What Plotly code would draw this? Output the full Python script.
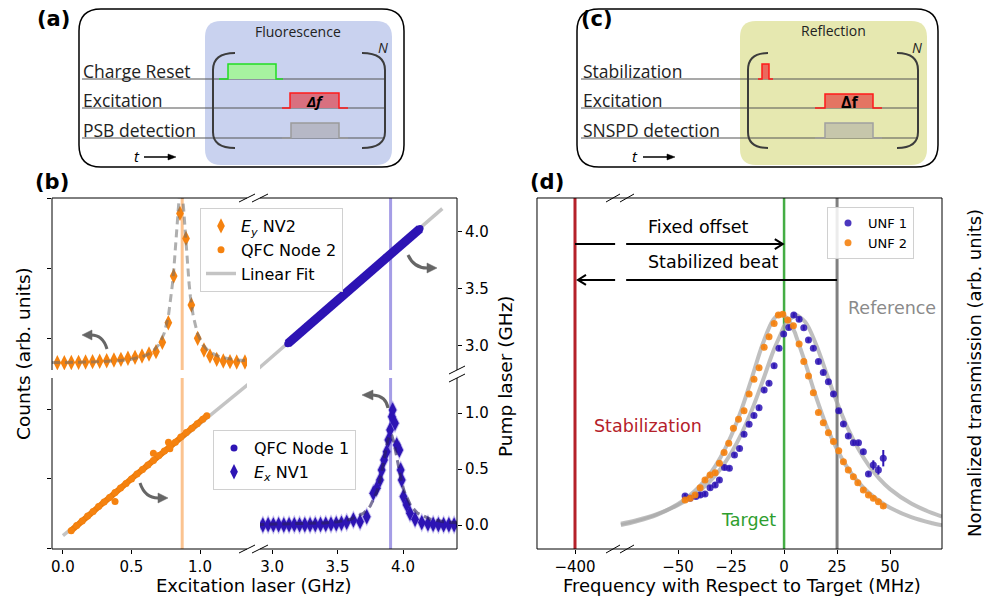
import plotly.graph_objects as go

W, H = 984, 599


def X(p):
    return p / W


def Y(p):
    return 1 - p / H


def pth(*items):
    out = []
    for it in items:
        if isinstance(it, str):
            out.append(it)
        else:
            out.append(f"{X(it[0]):.5f},{Y(it[1]):.5f}")
    return " ".join(out)


# ---------------- panel (b) data ----------------
ey_exc = [-0.041, 0.010, 0.061, 0.114, 0.165, 0.216, 0.268, 0.319, 0.372, 0.423, 0.474, 0.526, 0.577, 0.628,
          0.679, 0.725, 0.769, 0.808, 0.854, 0.898, 0.937, 0.983, 1.029, 1.073, 1.122, 1.170, 1.219, 1.268, 1.328]
ey_counts = [0.647, 0.647, 0.650, 0.652, 0.657, 0.662, 0.667, 0.676, 0.686, 0.695, 0.710, 0.724, 0.743, 0.771,
             0.805, 0.938, 1.219, 1.886, 2.781, 2.424, 1.471, 0.995, 0.829, 0.743, 0.695, 0.671, 0.662, 0.657, 0.657]

eyfit_exc = [-0.08, 0.2, 0.4, 0.5, 0.6, 0.65, 0.7, 0.74, 0.77, 0.79, 0.80, 0.81, 0.82, 0.83, 0.84, 0.85, 0.86,
             0.87, 0.88, 0.89, 0.90, 0.91, 0.92, 0.93, 0.95, 0.98, 1.02, 1.07, 1.15, 1.25, 1.37]
eyfit_counts = [0.649, 0.657, 0.675, 0.697, 0.747, 0.800, 0.904, 1.075, 1.321, 1.594, 1.786, 2.009, 2.275, 2.567,
                2.864, 3.06, 3.14, 3.06, 2.864, 2.567, 2.275, 2.009, 1.786, 1.594, 1.321, 1.075, 0.904, 0.800,
                0.727, 0.689, 0.672]

ex_exc = [2.89, 2.93, 2.97, 3.01, 3.05, 3.09, 3.13, 3.17, 3.21, 3.25, 3.29, 3.33, 3.37, 3.41, 3.45, 3.49, 3.53,
          3.57, 3.621, 3.672, 3.723, 3.773, 3.799, 3.824, 3.837, 3.855, 3.875, 3.888, 3.901, 3.914, 3.921, 3.939,
          3.952, 3.972, 3.982, 3.990, 4.003, 4.028, 4.053, 4.092, 4.143, 4.19, 4.23, 4.27, 4.31, 4.35, 4.39, 4.43]
ex_counts = [0.345, 0.343, 0.347, 0.344, 0.346, 0.343, 0.345, 0.347, 0.344, 0.346, 0.345, 0.348, 0.350, 0.352,
             0.355, 0.360, 0.368, 0.380, 0.414, 0.390, 0.461, 0.795, 0.867, 0.986, 1.129, 1.271, 1.390, 1.557,
             1.700, 1.890, 1.986, 1.795, 1.486, 1.414, 1.129, 0.986, 0.748, 0.629, 0.510, 0.424, 0.376, 0.360,
             0.352, 0.348, 0.346, 0.345, 0.344, 0.344]

exfit_exc = [2.88, 3.2, 3.4, 3.5, 3.6, 3.7, 3.75, 3.8, 3.825, 3.85, 3.865, 3.88, 3.895, 3.905, 3.915, 3.93, 3.945,
             3.96, 3.985, 4.01, 4.06, 4.11, 4.21, 4.31, 4.42]
exfit_counts = [0.348, 0.357, 0.372, 0.389, 0.424, 0.512, 0.614, 0.818, 0.99, 1.223, 1.38, 1.524, 1.62, 1.64,
                1.62, 1.524, 1.38, 1.223, 0.99, 0.818, 0.614, 0.512, 0.424, 0.389, 0.372]

qfc1_exc = [3.12, 3.17, 3.22, 3.27, 3.32, 3.37, 3.42, 3.47, 3.52, 3.57, 3.62, 3.67, 3.72, 3.77, 3.82, 3.87, 3.92,
            3.97, 4.02, 4.07, 4.13]
qfc1_pump = [3.02, 3.07, 3.12, 3.175, 3.22, 3.27, 3.32, 3.37, 3.42, 3.47, 3.52, 3.57, 3.62, 3.67, 3.72, 3.775,
             3.82, 3.87, 3.92, 3.97, 4.03]

qfc2_exc = [0.06, 0.10, 0.14, 0.18, 0.22, 0.26, 0.30, 0.34, 0.38, 0.42, 0.46, 0.50, 0.54, 0.58, 0.62, 0.66, 0.70,
            0.74, 0.78, 0.82, 0.86, 0.90, 0.94, 0.98, 1.02, 1.05]
qfc2_pump = [-0.05, -0.005, 0.035, 0.08, 0.12, 0.165, 0.205, 0.245, 0.29, 0.33, 0.37, 0.41, 0.455, 0.495, 0.535,
             0.575, 0.62, 0.66, 0.70, 0.74, 0.785, 0.825, 0.865, 0.905, 0.945, 0.975]
qfc2_out_exc = [0.38, 0.66, 0.77, 0.78]
qfc2_out_pump = [0.21, 0.64, 0.74, 0.68]

linfit_exc = [0.0, 4.3]
linfit_pump = [-0.095, 4.205]

ey_resonance = 0.87
ex_resonance = 3.905

b_left_ticks = [0.0, 0.5, 1.0]
b_right_ticks = [3.0, 3.5, 4.0]
pump_top_ticks = [3.0, 3.5, 4.0]
pump_bot_ticks = [0.0, 0.5, 1.0]

# ---------------- panel (d) data ----------------
unf1_freq = [-46.7, -44.3, -41.6, -39.6, -37.3, -34.9, -32.5, -30.5, -28.1, -25.8, -23.4, -21.0, -18.9, -16.5,
             -14.2, -11.8, -9.4, -7.1, -4.7, -2.4, -0.2, 2.2, 4.6, 7.1, 9.3, 11.5, 13.8, 16.2, 18.5, 20.9, 23.3,
             25.8, 28.0, 30.3, 32.7, 35.1, 37.4, 39.8, 42.1, 44.5, 46.8]
unf1_trans = [0.226, 0.217, 0.224, 0.231, 0.235, 0.262, 0.274, 0.295, 0.348, 0.345, 0.402, 0.430, 0.490, 0.533,
              0.570, 0.604, 0.679, 0.708, 0.783, 0.858, 0.919, 0.947, 1.0, 0.982, 0.946, 0.893, 0.858, 0.801,
              0.754, 0.715, 0.662, 0.591, 0.534, 0.483, 0.454, 0.454, 0.416, 0.321, 0.359, 0.338, 0.388]
unf1_err = [0.01] * 38 + [0.02, 0.02, 0.035]

unf2_freq = [-46.7, -44.3, -42.0, -39.6, -37.3, -34.9, -32.5, -30.5, -28.3, -26.1, -23.9, -21.5, -18.9, -16.5,
             -14.2, -11.8, -9.4, -7.1, -4.7, -2.7, -0.6, 1.7, 4.4, 7.1, 9.3, 11.5, 13.8, 16.2, 18.5, 20.9, 23.3,
             25.8, 28.0, 30.3, 32.7, 34.8, 37.4, 39.8, 42.1, 44.5, 46.8]
unf2_trans = [0.209, 0.217, 0.231, 0.262, 0.295, 0.316, 0.326, 0.366, 0.412, 0.452, 0.516, 0.554, 0.591, 0.662,
              0.725, 0.775, 0.862, 0.907, 0.964, 1.0, 1.003, 0.979, 0.954, 0.876, 0.801, 0.739, 0.668, 0.583,
              0.540, 0.497, 0.459, 0.420, 0.373, 0.338, 0.309, 0.283, 0.252, 0.231, 0.217, 0.202, 0.184]
unf2_err = [0.008] * 41

fit_freq = [-77, -70, -60, -50, -45, -40, -35, -30, -25, -20, -15, -10, -5, -1.5, 0, 2, 5, 5.6, 10, 15, 20, 25,
            30, 35, 40, 45, 50, 60, 70, 74.5]
unf1_fit = [0.108, 0.122, 0.149, 0.188, 0.214, 0.247, 0.289, 0.342, 0.409, 0.494, 0.598, 0.720, 0.847, 0.920,
            0.952, 0.975, 0.998, 1.0, 0.970, 0.876, 0.751, 0.626, 0.517, 0.428, 0.356, 0.300, 0.256, 0.194,
            0.153, 0.139]
unf2_fit = [0.102, 0.117, 0.146, 0.192, 0.225, 0.266, 0.320, 0.391, 0.483, 0.599, 0.737, 0.878, 0.981, 1.005,
            0.997, 0.981, 0.927, 0.912, 0.795, 0.652, 0.526, 0.425, 0.346, 0.286, 0.240, 0.204, 0.176, 0.136,
            0.110, 0.101]

stab_freq = -400
target_freq = 0
ref_freq = 25
offset_arrow_y = 1.303
beat_arrow_y = 1.15
d_left_ticks = [-400]
d_main_ticks = [-50, -25, 0, 25, 50]

# ---------------- colours ----------------
ORANGE = "#f5820f"
BLUE = "#2d14b4"
FONT = "DejaVu Sans"
DFONT = "Open Sans"

fig = go.Figure()

# ---- panel (b) traces ----
fig.add_trace(go.Scatter(x=ey_exc, y=ey_counts, xaxis="x3", yaxis="y3", mode="markers",
                         marker=dict(symbol="diamond-tall", size=11, color=ORANGE),
                         name="<i>E<sub>y</sub></i> NV2", legend="legend", legendrank=1))
fig.add_trace(go.Scatter(x=eyfit_exc, y=eyfit_counts, xaxis="x3", yaxis="y3", mode="lines",
                         line=dict(color="rgba(110,110,110,0.55)", width=3, dash="8px,5px"),
                         showlegend=False, hoverinfo="skip"))
fig.add_trace(go.Scatter(x=linfit_exc, y=linfit_pump, xaxis="x", yaxis="y2", mode="lines",
                         line=dict(color="#c4c4c4", width=3.5), name="Linear Fit",
                         legend="legend", legendrank=3))
fig.add_trace(go.Scatter(x=qfc2_exc, y=qfc2_pump, xaxis="x", yaxis="y2", mode="lines",
                         line=dict(color="#e87a0c", width=6), showlegend=False, hoverinfo="skip"))
fig.add_trace(go.Scatter(x=qfc2_exc + qfc2_out_exc, y=qfc2_pump + qfc2_out_pump, xaxis="x", yaxis="y2",
                         mode="markers", marker=dict(size=7, color=ORANGE),
                         name="QFC Node 2", legend="legend", legendrank=2))
fig.add_trace(go.Scatter(x=linfit_exc, y=linfit_pump, xaxis="x4", yaxis="y4", mode="lines",
                         line=dict(color="#c4c4c4", width=3.5), showlegend=False, hoverinfo="skip"))
fig.add_trace(go.Scatter(x=qfc1_exc, y=qfc1_pump, xaxis="x4", yaxis="y4", mode="lines",
                         line=dict(color=BLUE, width=9), showlegend=False, hoverinfo="skip"))
fig.add_trace(go.Scatter(x=qfc1_exc, y=qfc1_pump, xaxis="x4", yaxis="y4", mode="markers",
                         marker=dict(size=7, color=BLUE), name="QFC Node 1", legend="legend2",
                         legendrank=1))
fig.add_trace(go.Scatter(x=ex_exc, y=ex_counts, xaxis="x2", yaxis="y", mode="markers",
                         marker=dict(symbol="diamond-tall", size=14, color="rgba(90,70,210,0.35)"),
                         showlegend=False, hoverinfo="skip"))
fig.add_trace(go.Scatter(x=ex_exc, y=ex_counts, xaxis="x2", yaxis="y", mode="markers",
                         marker=dict(symbol="diamond-tall", size=11, color=BLUE),
                         name="<i>E<sub>x</sub></i> NV1", legend="legend2", legendrank=2))
fig.add_trace(go.Scatter(x=exfit_exc, y=exfit_counts, xaxis="x2", yaxis="y", mode="lines",
                         line=dict(color="rgba(40,30,90,0.6)", width=3, dash="8px,5px"),
                         showlegend=False, hoverinfo="skip"))

# ---- panel (d) traces ----
fig.add_trace(go.Scatter(x=[stab_freq, stab_freq], y=[0, 1.5], xaxis="x5", yaxis="y5", mode="lines",
                         line=dict(color="#b5212a", width=3), showlegend=False, hoverinfo="skip"))
fig.add_trace(go.Scatter(x=[target_freq, target_freq], y=[0, 1.5], xaxis="x6", yaxis="y5", mode="lines",
                         line=dict(color="#44ad44", width=2.5), showlegend=False, hoverinfo="skip"))
fig.add_trace(go.Scatter(x=[ref_freq, ref_freq], y=[0, 1.5], xaxis="x6", yaxis="y5", mode="lines",
                         line=dict(color="#808080", width=3), showlegend=False, hoverinfo="skip"))
fig.add_trace(go.Scatter(x=fit_freq, y=unf1_fit, xaxis="x6", yaxis="y5", mode="lines", line_shape="spline",
                         line=dict(color="rgba(170,170,170,0.75)", width=4), showlegend=False,
                         hoverinfo="skip"))
fig.add_trace(go.Scatter(x=fit_freq, y=unf2_fit, xaxis="x6", yaxis="y5", mode="lines", line_shape="spline",
                         line=dict(color="rgba(170,170,170,0.75)", width=4), showlegend=False,
                         hoverinfo="skip"))
fig.add_trace(go.Scatter(x=unf1_freq, y=unf1_trans, xaxis="x6", yaxis="y5", mode="markers",
                         marker=dict(size=7, color=BLUE, opacity=0.85),
                         error_y=dict(type="data", array=unf1_err, color=BLUE, thickness=2, width=0),
                         name="UNF 1", legend="legend3"))
fig.add_trace(go.Scatter(x=unf2_freq, y=unf2_trans, xaxis="x6", yaxis="y5", mode="markers",
                         marker=dict(size=7, color=ORANGE, opacity=0.9),
                         error_y=dict(type="data", array=unf2_err, color=ORANGE, thickness=2, width=0),
                         name="UNF 2", legend="legend3"))

# ---------------- axes ----------------
tickcommon = dict(showgrid=False, zeroline=False, showline=False, ticks="outside", ticklen=4, tickwidth=1,
                  tickcolor="black", tickfont=dict(family=FONT, size=15, color="black"))

bx_l = [X(52), X(247)]
bx_r = [X(260), X(457)]
by_top = [Y(370), Y(198)]
by_bot = [Y(549), Y(378)]
dx_l = [X(537), X(620)]
dx_m = [X(620), X(942)]
dy = [Y(549), Y(198)]

layout_axes = dict(
    xaxis=dict(domain=bx_l, range=[-0.080, 1.343], anchor="y", tickvals=b_left_ticks,
               ticktext=["0.0", "0.5", "1.0"], **tickcommon),
    xaxis2=dict(domain=bx_r, range=[2.908, 4.412], anchor="y2", tickvals=b_right_ticks,
                ticktext=["3.0", "3.5", "4.0"], **tickcommon),
    xaxis3=dict(domain=bx_l, range=[-0.080, 1.343], anchor="y3", showticklabels=False, showgrid=False,
                zeroline=False, showline=False, ticks=""),
    xaxis4=dict(domain=bx_r, range=[2.908, 4.412], anchor="y4", showticklabels=False, showgrid=False,
                zeroline=False, showline=False, ticks=""),
    yaxis=dict(domain=by_bot, range=[-0.001, 2.443], anchor="x", side="left", tickvals=[0, 1, 2],
               showticklabels=False, **tickcommon),
    yaxis2=dict(domain=by_bot, range=[-0.214, 1.3125], anchor="x2", side="right", tickvals=pump_bot_ticks,
                ticktext=["0.0", "0.5", "1.0"], **tickcommon),
    yaxis3=dict(domain=by_top, range=[0.543, 3.001], anchor="x3", side="left", tickvals=[1, 2, 3],
                showticklabels=False, **tickcommon),
    yaxis4=dict(domain=by_top, range=[2.789, 4.298], anchor="x4", side="right", tickvals=pump_top_ticks,
                ticktext=["3.0", "3.5", "4.0"], **tickcommon),
    xaxis5=dict(domain=dx_l, range=[-417.9, -378.8], anchor="y5", tickvals=d_left_ticks,
                ticktext=["\u2212400"], **tickcommon),
    xaxis6=dict(domain=dx_m, range=[-77.4, 74.5], anchor="y5", tickvals=d_main_ticks,
                ticktext=["\u221250", "\u221225", "0", "25", "50"], **tickcommon),
    yaxis5=dict(domain=dy, range=[0, 1.5], anchor="x5", showticklabels=False, ticks="", showgrid=False,
                zeroline=False, showline=False),
)

# ---------------- shapes ----------------
shapes = []


def line_px(x0, y0, x1, y1, color="black", width=1):
    shapes.append(dict(type="line", xref="paper", yref="paper", x0=X(x0), y0=Y(y0), x1=X(x1), y1=Y(y1),
                       line=dict(color=color, width=width)))


def path_px(p, color="black", width=1, fill=None, layer="above"):
    d = dict(type="path", xref="paper", yref="paper", path=p, line=dict(color=color, width=width), layer=layer)
    if fill:
        d["fillcolor"] = fill
    shapes.append(d)


def rrect(x0, y0, x1, y1, r):
    return pth("M", (x0 + r, y0), "L", (x1 - r, y0), "Q", (x1, y0), (x1, y0 + r), "L", (x1, y1 - r),
               "Q", (x1, y1), (x1 - r, y1), "L", (x0 + r, y1), "Q", (x0, y1), (x0, y1 - r),
               "L", (x0, y0 + r), "Q", (x0, y0), (x0 + r, y0), "Z")


def pulse(xa, xb, xc, xd, base, top, fill, edge):
    path_px(pth("M", (xb, base), "L", (xb, top), "L", (xc, top), "L", (xc, base), "Z"),
            color="rgba(0,0,0,0)", width=0, fill=fill)
    path_px(pth("M", (xa, base), "L", (xb, base), "L", (xb, top), "L", (xc, top), "L", (xc, base),
                "L", (xd, base)), color=edge, width=1.5)


def bracket(xend, xcorner):
    path_px(pth("M", (xend, 53), "Q", (xcorner, 53), (xcorner, 70), "L", (xcorner, 132),
                "Q", (xcorner, 148), (xend, 148)), color="#3c3c3c", width=2)


# panel (a)
path_px(rrect(205, 21, 392, 165, 16), color="rgba(0,0,0,0)", width=0, fill="#c9d2ef")
path_px(rrect(79, 9, 404, 167, 22), color="black", width=1.5)
for yy in (79, 108, 138):
    line_px(82, yy, 384, yy, color="#555555", width=1.2)
pulse(219, 228, 276, 283, 79, 64, "#a7f2a0", "#22dd22")
pulse(282, 290, 339, 348, 108, 93, "#d9707f", "#ff1a1a")
pulse(282, 291, 339, 348, 138, 123, "#b6b8c6", "#9b9b9b")
bracket(235, 213)
bracket(362, 385)
line_px(144, 157, 171, 157, width=1.5)
path_px(pth("M", (176, 157), "L", (168, 154), "L", (168, 160), "Z"), width=0.5, fill="black")

# panel (c)
path_px(rrect(740, 21, 927, 165, 16), color="rgba(0,0,0,0)", width=0, fill="#e6e8b0")
path_px(rrect(577, 9, 938, 167, 22), color="black", width=1.5)
for yy in (79, 108, 138):
    line_px(581, yy, 918, yy, color="#555555", width=1.2)
pulse(758, 762, 769, 773, 79, 64, "#ea6a5e", "#ff1a1a")
pulse(815, 825, 873, 882, 108, 94, "#e47563", "#ff1a1a")
pulse(815, 825, 873, 882, 138, 123, "#c6c6ab", "#a0a0a0")
bracket(768, 748)
bracket(897, 918)
line_px(643, 157, 670, 157, width=1.5)
path_px(pth("M", (675, 157), "L", (667, 154), "L", (667, 160), "Z"), width=0.5, fill="black")

# panel (b) spines
line_px(52, 198, 52, 370)
line_px(52, 378, 52, 549)
line_px(457, 198, 457, 370)
line_px(457, 378, 457, 549)
line_px(52, 198, 247, 198)
line_px(260, 198, 457, 198)
line_px(52, 549, 247, 549)
line_px(260, 549, 457, 549)
for cx, cy in ((247, 198), (260, 198), (247, 549), (260, 549), (457, 370), (457, 378)):
    line_px(cx - 8, cy + 4, cx + 8, cy - 4)

# vertical resonance lines in panel (b)
for xr, yr, xv in (("x3", "y3 domain", ey_resonance), ("x", "y2 domain", ey_resonance),
                   ("x4", "y4 domain", ex_resonance), ("x2", "y domain", ex_resonance)):
    col = "#fbc390" if xv == ey_resonance else "#a59de6"
    shapes.append(dict(type="line", xref=xr, yref=yr, x0=xv, x1=xv, y0=0, y1=1,
                       line=dict(color=col, width=3), layer="below"))

# curved gray arrows in panel (b)
GR = "#666666"
path_px(pth("M", (107, 349), "Q", (103, 335), (91, 335)), color=GR, width=3)
path_px(pth("M", (82, 335), "L", (92, 330), "L", (92, 340), "Z"), color=GR, width=0.5, fill=GR)
path_px(pth("M", (140, 483), "Q", (145, 498), (158, 498)), color=GR, width=3)
path_px(pth("M", (168, 498), "L", (158, 493), "L", (158, 503), "Z"), color=GR, width=0.5, fill=GR)
path_px(pth("M", (408, 255), "Q", (414, 268), (427, 268)), color=GR, width=3)
path_px(pth("M", (437, 268), "L", (427, 263), "L", (427, 273), "Z"), color=GR, width=0.5, fill=GR)
path_px(pth("M", (388, 408), "Q", (386, 396), (373, 395)), color=GR, width=3)
path_px(pth("M", (362, 395), "L", (373, 390), "L", (373, 400), "Z"), color=GR, width=0.5, fill=GR)

# panel (d) frame and break marks
path_px(pth("M", (537, 198), "L", (942, 198), "L", (942, 549), "L", (537, 549), "Z"), color="black", width=1)
for cx, cy in ((613, 198), (627, 198), (613, 549), (627, 549)):
    line_px(cx - 7, cy + 4, cx + 7, cy - 4)

# panel (d) arrows (lines + open heads, in data coordinates)
HX = 8 / 2.12   # arrow head length (MHz)
HY = 5 / 234    # arrow head half-height (transmission units)
shapes.append(dict(type="line", xref="x5", yref="y5", x0=stab_freq, x1=-381.1, y0=offset_arrow_y,
                   y1=offset_arrow_y, line=dict(color="black", width=2)))
shapes.append(dict(type="line", xref="x6", yref="y5", x0=-74.5, x1=target_freq - 0.6, y0=offset_arrow_y,
                   y1=offset_arrow_y, line=dict(color="black", width=2)))
shapes.append(dict(type="path", xref="x6", yref="y5",
                   path=f"M {target_freq - 0.6 - HX},{offset_arrow_y + HY} L {target_freq - 0.6},{offset_arrow_y} "
                        f"L {target_freq - 0.6 - HX},{offset_arrow_y - HY}",
                   line=dict(color="black", width=2)))
shapes.append(dict(type="line", xref="x6", yref="y5", x0=ref_freq, x1=-74.5, y0=beat_arrow_y,
                   y1=beat_arrow_y, line=dict(color="black", width=2)))
shapes.append(dict(type="line", xref="x5", yref="y5", x0=-381.1, x1=stab_freq + 1.4, y0=beat_arrow_y,
                   y1=beat_arrow_y, line=dict(color="black", width=2)))
shapes.append(dict(type="path", xref="x5", yref="y5",
                   path=f"M {stab_freq + 1.4 + HX},{beat_arrow_y + HY} L {stab_freq + 1.4},{beat_arrow_y} "
                        f"L {stab_freq + 1.4 + HX},{beat_arrow_y - HY}",
                   line=dict(color="black", width=2)))

# ---------------- annotations ----------------
ann = []


def txt(x, y, s, size, color="black", family=FONT, xanchor="center", textangle=0, yanchor="middle"):
    ann.append(dict(x=X(x), y=Y(y), xref="paper", yref="paper", text=s, showarrow=False,
                    font=dict(family=family, size=size, color=color), xanchor=xanchor, yanchor=yanchor,
                    textangle=textangle, borderpad=0))


txt(53, 19, "<b>(a)</b>", 21)
txt(597, 19, "<b>(c)</b>", 21)
txt(52, 182, "<b>(b)</b>", 21)
txt(547, 182, "<b>(d)</b>", 21)

txt(298, 31, "Fluorescence", 14, color="#222222", family=DFONT)
txt(383, 47, "<i>N</i>", 14, color="#222222", family=DFONT)
txt(82, 71, "Charge Reset", 17.5, color="#222222", family=DFONT, xanchor="left")
txt(82, 100, "Excitation", 17.5, color="#222222", family=DFONT, xanchor="left")
txt(82, 130, "PSB detection", 17.5, color="#222222", family=DFONT, xanchor="left")
txt(315, 101, "<b><i>\u0394f</i></b>", 15, family=DFONT)
txt(137, 156, "<i>t</i>", 15, family=DFONT)

txt(833, 30, "Reflection", 14, color="#222222", family=DFONT)
txt(917, 47, "<i>N</i>", 14, color="#222222", family=DFONT)
txt(582, 71, "Stabilization", 17.5, color="#222222", family=DFONT, xanchor="left")
txt(582, 100, "Excitation", 17.5, color="#222222", family=DFONT, xanchor="left")
txt(582, 130, "SNSPD detection", 17.5, color="#222222", family=DFONT, xanchor="left")
txt(850, 102, "<b>\u0394f</b>", 16, family=DFONT)
txt(635, 156, "<i>t</i>", 15, family=DFONT)

txt(23, 354, "Counts (arb. units)", 18.5, textangle=-90)
txt(505, 376, "Pump laser (GHz)", 18.5, textangle=-90)
txt(253, 585, "Excitation laser (GHz)", 18)

txt(742, 585, "Frequency with Respect to Target (MHz)", 18)
txt(974, 373, "Normalized transmission (arb. units)", 18, textangle=-90)

for s, xv, yv, col in (("Stabilization", -64.2, 0.526, "#b5212a"), ("Target", -17.0, 0.124, "#2e9e2e"),
                       ("Reference", 50.9, 1.03, "#8a8a8a"), ("Fixed offset", -40.6, 1.376, "black"),
                       ("Stabilized beat", -33.5, 1.226, "black")):
    ann.append(dict(x=xv, y=yv, xref="x6", yref="y5", text=s, showarrow=False,
                    font=dict(family=FONT, size=17.5, color=col), xanchor="center", yanchor="middle"))

legend_common = dict(bgcolor="rgba(255,255,255,0.85)", bordercolor="#d0d0d0", borderwidth=1,
                     xanchor="left", yanchor="top", traceorder="normal", tracegroupgap=0)

fig.update_layout(
    width=W, height=H,
    margin=dict(l=0, r=0, t=0, b=0, autoexpand=False),
    paper_bgcolor="white", plot_bgcolor="white",
    font=dict(family=FONT, color="black"),
    shapes=shapes, annotations=ann,
    legend=dict(x=X(200), y=Y(208), font=dict(family=FONT, size=16, color="black"), **legend_common),
    legend2=dict(x=X(213), y=Y(430), font=dict(family=FONT, size=16, color="black"), **legend_common),
    legend3=dict(x=X(827), y=Y(207), font=dict(family=FONT, size=13, color="black"), **legend_common),
    **layout_axes,
)

fig.write_html("out.html", config={"displayModeBar": False},
               post_script="document.body.style.margin='0';document.body.style.padding='0';"
                           "document.documentElement.style.overflow='hidden';"
                           "document.body.style.overflow='hidden';")
